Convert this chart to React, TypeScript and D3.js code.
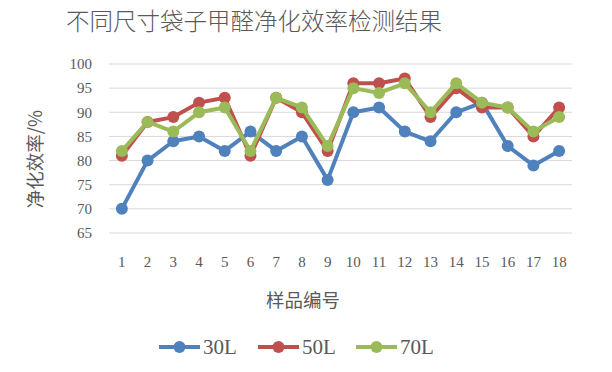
import React, { useEffect, useRef } from "react";
import * as d3 from "d3";

const samples = d3.range(1, 19).map(String);
const yTicks = [65, 70, 75, 80, 85, 90, 95, 100];
const s30 = [70, 80, 84, 85, 82, 86, 82, 85, 76, 90, 91, 86, 84, 90, 92, 83, 79, 82];
const s50 = [81, 88, 89, 92, 93, 81, 93, 90, 82, 96, 96, 97, 89, 95, 91, 91, 85, 91];
const s70 = [82, 88, 86, 90, 91, 82, 93, 91, 83, 95, 94, 96, 90, 96, 92, 91, 86, 89];
const seriesNames = ["30L", "50L", "70L"];
const colors = ["#4F81BD", "#C0504D", "#9BBB59"];

const App: React.FC = () => {
    const svgRef = useRef<SVGSVGElement | null>(null);

    useEffect(() => {
        const svg = d3.select(svgRef.current);
        svg.selectAll("*").remove();
        const serif = "'Liberation Serif', 'Times New Roman', serif";
        const cjk = "'Noto Sans CJK SC', sans-serif";

        const x = d3.scaleBand<string>().domain(samples).range([109, 572]);
        const y = d3.scaleLinear().domain([65, 100]).range([233, 64]);
        const cx = (i: number) => x(samples[i])! + x.bandwidth() / 2;

        // title
        svg.append("text").attr("x", 254).attr("y", 30).attr("text-anchor", "middle")
            .style("font-family", cjk).style("font-size", "23.5px").style("font-weight", 300)
            .attr("fill", "#595959").text("不同尺寸袋子甲醛净化效率检测结果");

        // gridlines
        svg.append("g").selectAll("line").data(yTicks).join("line")
            .attr("x1", 109).attr("x2", 572)
            .attr("y1", (d) => y(d)).attr("y2", (d) => y(d))
            .attr("stroke", "#d9d9d9").attr("stroke-width", 1);

        // y labels
        svg.append("g").selectAll("text").data(yTicks).join("text")
            .attr("x", 92).attr("y", (d) => y(d)).attr("dy", "0.35em")
            .attr("text-anchor", "end").style("font-family", serif).style("font-size", "15px")
            .attr("fill", "#595959").text((d) => d);

        // x labels
        svg.append("g").selectAll("text").data(samples).join("text")
            .attr("x", (d) => x(d)! + x.bandwidth() / 2).attr("y", 267)
            .attr("text-anchor", "middle").style("font-family", serif).style("font-size", "15px")
            .attr("fill", "#595959").text((d) => d);

        // axis titles
        svg.append("text").attr("x", 303).attr("y", 307).attr("text-anchor", "middle")
            .style("font-family", cjk).style("font-size", "18.5px").attr("fill", "#595959")
            .text("样品编号");
        svg.append("text").attr("transform", "translate(42,159) rotate(-90)")
            .attr("text-anchor", "middle").style("font-family", cjk).style("font-size", "18.5px")
            .attr("fill", "#595959").text("净化效率/%");

        // lines
        const line = d3.line<number>().x((_, i) => cx(i)).y((d) => y(d));
        [s30, s50, s70].forEach((vals, k) => {
            const g = svg.append("g");
            g.append("path").datum(vals).attr("fill", "none").attr("stroke", colors[k])
                .attr("stroke-width", 4).attr("stroke-linejoin", "round").attr("d", line);
            g.selectAll("circle").data(vals).join("circle")
                .attr("cx", (_, i) => cx(i)).attr("cy", (d) => y(d)).attr("r", 6)
                .attr("fill", colors[k]);
        });

        // legend
        const legX = [159, 258, 356];
        seriesNames.forEach((name, k) => {
            const g = svg.append("g").attr("transform", `translate(${legX[k]},347)`);
            g.append("line").attr("x1", 0).attr("x2", 41).attr("stroke", colors[k]).attr("stroke-width", 4);
            g.append("circle").attr("cx", 20.5).attr("r", 6).attr("fill", colors[k]);
            g.append("text").attr("x", 44).attr("dy", "0.35em").style("font-family", serif)
                .style("font-size", "21px").attr("fill", "#595959").text(name);
        });
    }, []);

    return <svg ref={svgRef} width={612} height={372} style={{ position: "absolute", left: 0, top: 0 }}></svg>;
};

export default App;
